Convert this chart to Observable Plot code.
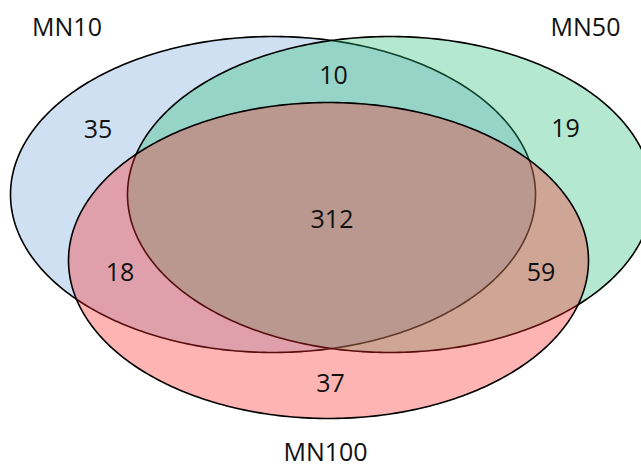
<!DOCTYPE html>
<html>
<head>
<meta charset="utf-8">
<script src="https://cdn.jsdelivr.net/npm/d3@7"></script>
<script src="https://cdn.jsdelivr.net/npm/@observablehq/plot@0.6"></script>
<style>
  html, body { margin: 0; padding: 0; background: #fff; }
  #chart svg { display: block; }
</style>
</head>
<body>
<div id="chart"></div>
<script>
// ---- data ----
const sets = ["MN10", "MN50", "MN100"];
const regions = ["MN10 only", "MN10 ∩ MN50", "MN50 only", "all", "MN10 ∩ MN100", "MN50 ∩ MN100", "MN100 only"];
const counts = [35, 10, 19, 312, 18, 59, 37];

// ---- layout (pixel space of the 641x466 canvas) ----
const ellipseCx = [272.5, 389.5, 328];
const ellipseCy = [194, 194, 260];
const ellipseRx = [262.5, 262.5, 260];
const ellipseRy = [158, 158, 158];
const setColors = ["rgb(118,166,218)", "rgb(44,189,121)", "rgb(255,41,41)"];
const setLabelX = [66.5, 585, 325];
const setLabelY = [27, 27.5, 452];
const regionX = [97.5, 333, 565, 331.5, 119.5, 540.5, 330];
const regionY = [129, 75, 128.5, 219, 272.5, 272.5, 383];

const angles = d3.range(0, 360, 1).map(d => d * Math.PI / 180);
function outline(i) {
  return angles.map(t => ({
    x: ellipseCx[i] + ellipseRx[i] * Math.cos(t),
    y: ellipseCy[i] + ellipseRy[i] * Math.sin(t)
  }));
}

const setLabels = sets.map((s, i) => ({x: setLabelX[i], y: setLabelY[i], text: s}));
const regionLabels = counts.map((c, i) => ({x: regionX[i], y: regionY[i], text: String(c), region: regions[i]}));

const font = "'Open Sans', 'Noto Sans', sans-serif";

const chart = Plot.plot({
  width: 641,
  height: 466,
  margin: 0,
  x: {domain: [0, 641], axis: null},
  y: {domain: [0, 466], axis: null, reverse: true},
  style: {background: "white"},
  marks: [
    ...sets.map((s, i) => Plot.line(outline(i), {
      x: "x", y: "y",
      curve: "linear-closed",
      fill: setColors[i],
      fillOpacity: 0.35,
      stroke: "black",
      strokeWidth: 1.6
    })),
    Plot.text(regionLabels, {x: "x", y: "y", text: "text", fontSize: 25, fontFamily: font, fill: "#111"}),
    Plot.text(setLabels, {x: "x", y: "y", text: "text", fontSize: 25, fontFamily: font, fill: "#111"})
  ]
});
document.getElementById("chart").appendChild(chart);
</script>
</body>
</html>
